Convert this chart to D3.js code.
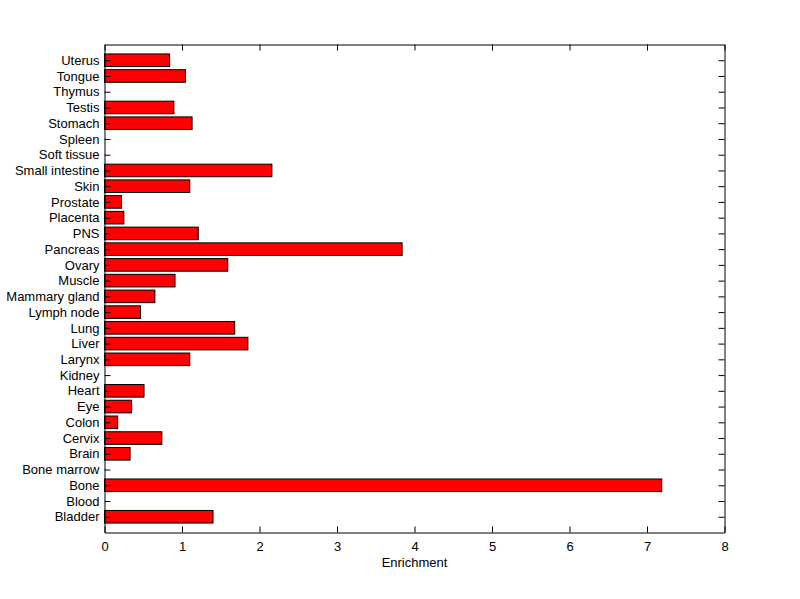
<!DOCTYPE html>
<html><head><meta charset="utf-8">
<script src="https://cdn.jsdelivr.net/npm/d3@7"></script>
<style>body{margin:0;background:#fff;} svg{display:block;}</style>
</head><body>
<script>
const categories = ["Bladder","Blood","Bone","Bone marrow","Brain","Cervix","Colon","Eye","Heart","Kidney","Larynx","Liver","Lung","Lymph node","Mammary gland","Muscle","Ovary","Pancreas","PNS","Placenta","Prostate","Skin","Small intestine","Soft tissue","Spleen","Stomach","Testis","Thymus","Tongue","Uterus"];
const enrichment = [1.40,0,7.19,0,0.33,0.74,0.17,0.35,0.51,0,1.10,1.85,1.68,0.465,0.65,0.91,1.59,3.84,1.21,0.25,0.22,1.10,2.16,0,0,1.13,0.895,0,1.045,0.84];
const xTicks = [0,1,2,3,4,5,6,7,8];
const xLabel = "Enrichment";

(function () {
const W = 800, H = 599;
const L = 104.5, R = 724.5, T = 44.5, B = 532.5;
const svg = d3.select("body").append("svg").attr("width", W).attr("height", H);
const font = "'Liberation Sans', Arial, sans-serif";

const x = d3.scaleLinear().domain([0, 8]).range([L, R]);
const y = d3.scaleLinear().domain([0, categories.length + 1]).range([B, T]);
const bw = Math.abs(y(0.8) - y(0));

// bars
svg.append("g").selectAll("rect").data(categories.map((c, i) => ({c, v: enrichment[i], i})).filter(d => d.v > 0))
  .join("rect")
  .attr("x", x(0))
  .attr("y", d => y(d.i + 1) - bw / 2)
  .attr("width", d => x(d.v) - x(0))
  .attr("height", bw)
  .attr("fill", "#ff0000").attr("stroke", "#000").attr("stroke-width", 1);

// axes
const tickLen = 6;
const axB = d3.axisBottom(x).tickValues(xTicks).tickFormat(d3.format("d")).tickSizeInner(-tickLen).tickSizeOuter(0).tickPadding(9);
const gb = svg.append("g").attr("transform", `translate(0,${B})`).call(axB);
const axT = d3.axisTop(x).tickValues(xTicks).tickFormat("").tickSizeInner(-tickLen).tickSizeOuter(0);
const gt = svg.append("g").attr("transform", `translate(0,${T})`).call(axT);
const axL = d3.axisLeft(y).tickValues(categories.map((c, i) => i + 1)).tickFormat(d => categories[d - 1]).tickSizeInner(-tickLen).tickSizeOuter(0).tickPadding(5);
const gl = svg.append("g").attr("transform", `translate(${L},0)`).call(axL);
const axR = d3.axisRight(y).tickValues(categories.map((c, i) => i + 1)).tickFormat("").tickSizeInner(-tickLen).tickSizeOuter(0);
const gr = svg.append("g").attr("transform", `translate(${R},0)`).call(axR);

[gb, gt, gl, gr].forEach(g => {
  g.selectAll("path.domain").attr("stroke", "#000").attr("stroke-width", 1);
  g.selectAll(".tick line").attr("stroke", "#000");
  g.selectAll("text").attr("fill", "#000").style("font-family", font).style("font-size", "13px");
});

svg.append("text").attr("x", (L + R) / 2).attr("y", 567)
  .attr("text-anchor", "middle").style("font-family", font).style("font-size", "13px")
  .attr("fill", "#000").text(xLabel);
})();
</script>
</body></html>
